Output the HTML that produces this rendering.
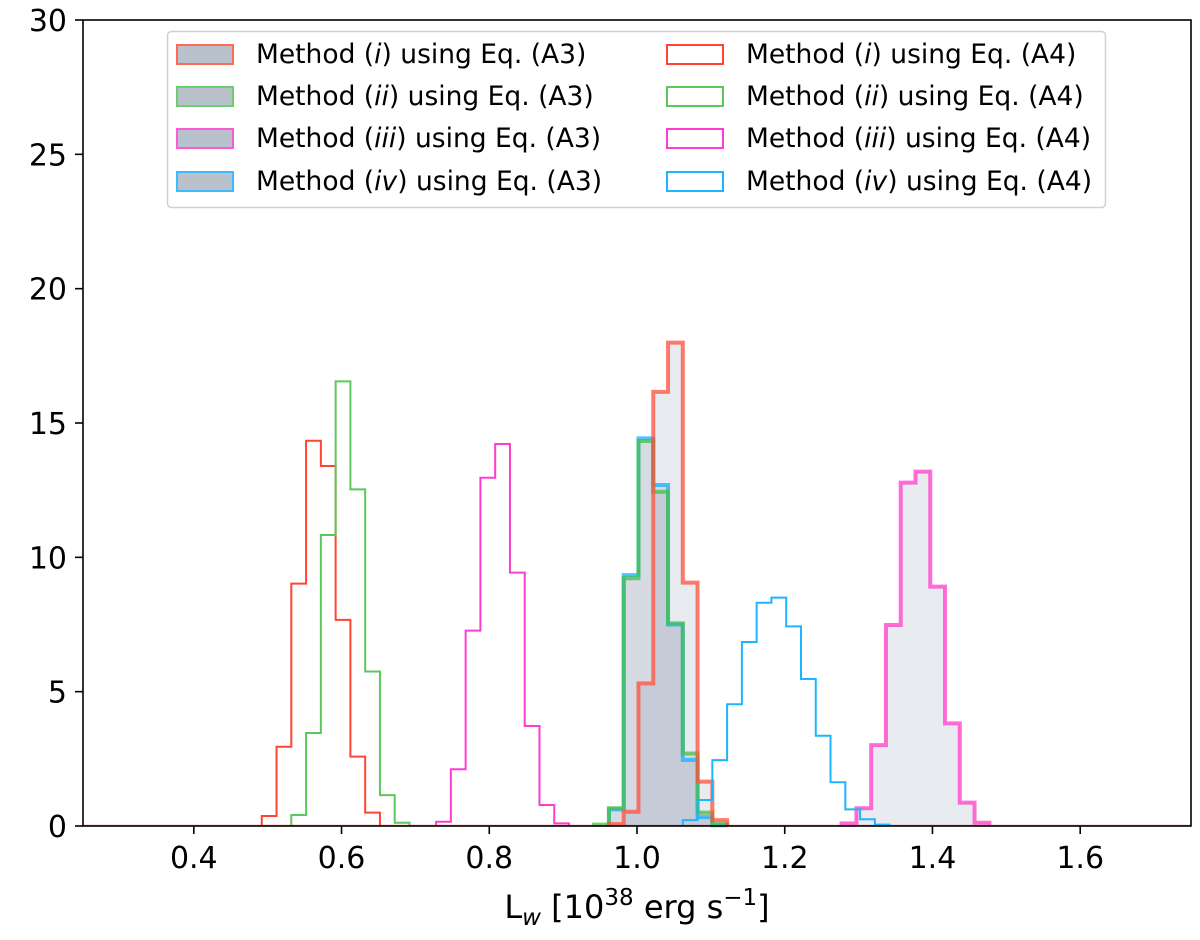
<!DOCTYPE html>
<html><head><meta charset="utf-8">
<style>
html,body{margin:0;padding:0;background:#fff;}
svg{display:block;font-family:"DejaVu Sans","Liberation Sans",sans-serif;}
</style></head>
<body>
<svg id="chart" width="1200" height="940" viewBox="0 0 1200 940" xmlns="http://www.w3.org/2000/svg">
<g id="plot"></g>
<g id="axes"></g>
<g id="legend"></g>
</svg>
<script>
// ---- data ----
const binWidth = 0.02;
const xTicks = [0.4, 0.6, 0.8, 1.0, 1.2, 1.4, 1.6];
const xTickLabels = ["0.4", "0.6", "0.8", "1.0", "1.2", "1.4", "1.6"];
const yTicks = [0, 5, 10, 15, 20, 25, 30];
const yTickLabels = ["0", "5", "10", "15", "20", "25", "30"];

// A3 (filled) series
const m1A3Start = 0.962;
const m1A3 = [0.07, 0.53, 5.31, 16.16, 17.99, 9.06, 1.65, 0.22];
const m2A3Start = 0.942;
const m2A3 = [0.05, 0.66, 9.22, 14.33, 12.44, 7.54, 2.7, 0.5, 0.07];
const m3A3Start = 1.277;
const m3A3 = [0.1, 0.66, 3.01, 7.48, 12.78, 13.19, 8.91, 3.82, 0.87, 0.12];
const m4A3Start = 0.962;
const m4A3 = [0.62, 9.34, 14.43, 12.69, 7.5, 2.46, 0.33, 0.03];

// A4 (outline) series
const m1A4Start = 0.492;
const m1A4 = [0.37, 2.95, 9.02, 14.34, 13.4, 7.67, 2.58, 0.5];
const m2A4Start = 0.532;
const m2A4 = [0.41, 3.46, 10.83, 16.55, 12.53, 5.75, 1.15, 0.12];
const m3A4Start = 0.728;
const m3A4 = [0.16, 2.11, 7.27, 12.96, 14.22, 9.43, 3.72, 0.78, 0.1];
const m4A4Start = 1.062;
const m4A4 = [0.22, 0.97, 2.45, 4.53, 6.85, 8.31, 8.5, 7.43, 5.47, 3.36, 1.63, 0.62, 0.25, 0.05];

// ---- scales ----
const X0 = 83, X1 = 1191, Y0 = 826, Y1 = 20;
const xMin = 0.25, xMax = 1.75, yMin = 0, yMax = 30;
function xs(v){ return X0 + (v - xMin) / (xMax - xMin) * (X1 - X0); }
function ys(v){ return Y0 - (v - yMin) / (yMax - yMin) * (Y0 - Y1); }

const NS = "http://www.w3.org/2000/svg";
function mk(tag, attrs, parent){
  const e = document.createElementNS(NS, tag);
  for (const k in attrs) e.setAttribute(k, attrs[k]);
  parent.appendChild(e);
  return e;
}
function stepPath(start, vals, closed){
  let d = "M" + xs(start) + "," + ys(0);
  vals.forEach((v, i) => {
    const a = xs(start + i * binWidth), b = xs(start + (i + 1) * binWidth);
    d += " L" + a + "," + ys(v) + " L" + b + "," + ys(v);
  });
  d += " L" + xs(start + vals.length * binWidth) + "," + ys(0);
  if (closed) d += " Z";
  return d;
}

const plot = document.getElementById("plot");
const base = mk("line", {x1: X0, x2: X1, y1: Y0 - 0.5, y2: Y0 - 0.5, stroke: "#ff8a80", "stroke-width": 1.5}, plot);



const fillCol = "rgba(120,138,165,0.17)";
const a3 = [
  {s: m1A3Start, v: m1A3, c: "rgba(255,80,60,0.75)", n: "method-i-a3"},
  {s: m2A3Start, v: m2A3, c: "rgba(70,190,70,0.75)", n: "method-ii-a3"},
  {s: m4A3Start, v: m4A3, c: "rgba(20,175,255,0.75)", n: "method-iv-a3"},
  {s: m3A3Start, v: m3A3, c: "rgba(255,60,200,0.75)", n: "method-iii-a3"}
];
a3.forEach(o => {
  const p = mk("path", {d: stepPath(o.s, o.v, true), fill: fillCol, stroke: "none"}, plot);
  
  
});
[a3[2], a3[1], a3[0], a3[3]].forEach(o => {
  const p = mk("path", {d: stepPath(o.s, o.v, false), fill: "none", stroke: o.c, "stroke-width": 4, "stroke-linejoin": "miter"}, plot);
  
  
});
const a4 = [
  {s: m1A4Start, v: m1A4, c: "#ff4433", n: "method-i-a4"},
  {s: m2A4Start, v: m2A4, c: "#5cc85c", n: "method-ii-a4"},
  {s: m3A4Start, v: m3A4, c: "#ff3ccf", n: "method-iii-a4"},
  {s: m4A4Start, v: m4A4, c: "#1eb4ff", n: "method-iv-a4"}
];
a4.forEach(o => {
  const p = mk("path", {d: stepPath(o.s, o.v, false), fill: "none", stroke: o.c, "stroke-width": 2}, plot);
  
  
});

// ---- axes ----
const axes = document.getElementById("axes");
const frame = mk("rect", {x: X0, y: Y1, width: X1 - X0, height: Y0 - Y1, fill: "none", stroke: "#000", "stroke-width": 1.6}, axes);


xTicks.forEach((t, i) => {
  const x = xs(t);
  const tk = mk("line", {x1: x, x2: x, y1: Y0, y2: Y0 + 8, stroke: "#000", "stroke-width": 1.6}, axes);
  
  
  const tl = mk("text", {x: x, y: Y0 + 42, "text-anchor": "middle", "font-size": 30, fill: "#000"}, axes);
  tl.textContent = xTickLabels[i];
  
  
});
yTicks.forEach((t, i) => {
  const y = ys(t);
  const tk = mk("line", {x1: X0 - 8, x2: X0, y1: y, y2: y, stroke: "#000", "stroke-width": 1.6}, axes);
  
  
  const tl = mk("text", {x: X0 - 16, y: y + 11, "text-anchor": "end", "font-size": 30, fill: "#000"}, axes);
  tl.textContent = yTickLabels[i];
  
  
});
const xt = mk("text", {x: 637, y: 918, "text-anchor": "middle", "font-size": 32, fill: "#000"}, axes);
xt.innerHTML = 'L<tspan font-style="italic" font-size="23" dy="7">w</tspan><tspan dy="-7"> [10</tspan><tspan font-size="23" dy="-13">38</tspan><tspan dy="13"> erg s</tspan><tspan font-size="23" dy="-13">−1</tspan><tspan dy="13">]</tspan>';



// ---- legend ----
const lg = document.getElementById("legend");
const lbox = mk("rect", {x: 167.5, y: 31.5, width: 938, height: 176, rx: 4, fill: "rgba(255,255,255,0.85)", stroke: "#d0d0d0", "stroke-width": 1.5}, lg);


const legNames = ["i", "ii", "iii", "iv"];
const legCols = ["#ff6a55", "#6cce6c", "#ff5ad6", "#3cbcff"];
const legCols4 = ["#ff4433", "#5cc85c", "#ff3ccf", "#1eb4ff"];
const rowsY = [54, 96, 138, 181];
[0, 1].forEach(col => {
  const px = col === 0 ? 177 : 667;
  rowsY.forEach((ry, i) => {
    const r = mk("rect", {x: px, y: ry - 9, width: 56, height: 19,
      fill: col === 0 ? "#b8c1cc" : "#fff", stroke: col === 0 ? legCols[i] : legCols4[i], "stroke-width": 2}, lg);
    
    
    const t = mk("text", {x: px + 79, y: ry + 9, "font-size": 26.5, fill: "#000"}, lg);
    t.innerHTML = 'Method (<tspan font-style="italic">' + legNames[i] + '</tspan>) using Eq. (' + (col === 0 ? 'A3' : 'A4') + ')';
    
    
  });
});
</script>
</body></html>
